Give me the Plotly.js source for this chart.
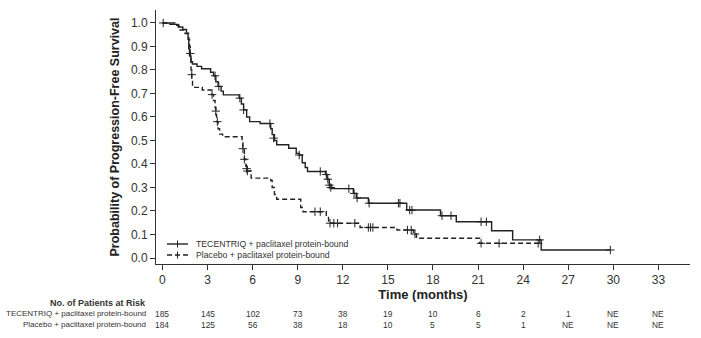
<!DOCTYPE html>
<html>
<head>
<meta charset="utf-8">
<script src="https://cdn.plot.ly/plotly-3.0.1.min.js"></script>
<style>
  html, body { margin: 0; padding: 0; background: #fff; }
  #chart { width: 701px; height: 338px; }
</style>
</head>
<body>
<div id="chart"></div>
<script>
// ---- Data ----
const tecentriqStepTime = [0, 0.5, 1.05, 1.35, 1.6, 1.7, 1.75, 1.8, 1.9, 2.0, 2.3, 2.6, 3.2, 3.4, 3.55, 3.7, 3.9, 4.05, 5.1, 5.25, 5.4, 5.6, 5.8, 6.5, 7.2, 7.3, 7.45, 7.6, 8.4, 8.9, 9.1, 9.3, 9.5, 9.65, 10.85, 10.95, 11.1, 11.25, 12.7, 12.9, 13.7, 16.25, 18.5, 19.55, 21.9, 23.3, 25.2, 29.8];
const tecentriqStepSurv = [1.0, 0.994, 0.983, 0.972, 0.956, 0.93, 0.89, 0.86, 0.835, 0.825, 0.815, 0.805, 0.79, 0.775, 0.75, 0.73, 0.71, 0.694, 0.68, 0.655, 0.63, 0.60, 0.58, 0.572, 0.55, 0.525, 0.50, 0.482, 0.467, 0.445, 0.438, 0.405, 0.385, 0.368, 0.355, 0.335, 0.31, 0.295, 0.275, 0.255, 0.233, 0.204, 0.18, 0.154, 0.116, 0.077, 0.034, 0.034];
const tecentriqCensorTime = [0.05, 3.5, 3.75, 5.15, 5.4, 7.15, 7.4, 9.1, 10.5, 10.9, 11.0, 11.1, 11.2, 12.4, 12.75, 12.95, 13.75, 15.7, 15.8, 16.45, 16.6, 18.6, 19.2, 21.2, 21.55, 25.1, 29.8];
const tecentriqCensorSurv = [1.0, 0.775, 0.73, 0.68, 0.63, 0.572, 0.51, 0.438, 0.368, 0.355, 0.335, 0.31, 0.30, 0.295, 0.275, 0.255, 0.233, 0.233, 0.233, 0.204, 0.204, 0.18, 0.18, 0.154, 0.154, 0.077, 0.034];

const placeboStepTime = [0, 0.95, 1.1, 1.5, 1.75, 1.8, 1.85, 1.9, 1.95, 2.0, 2.65, 3.3, 3.4, 3.5, 3.55, 3.6, 3.7, 3.8, 4.0, 5.3, 5.35, 5.45, 5.55, 5.65, 5.9, 7.2, 7.3, 7.45, 7.6, 9.2, 9.35, 10.9, 11.05, 13.15, 15.6, 16.7, 16.9, 21.1, 25.0];
const placeboStepSurv = [1.0, 0.99, 0.97, 0.955, 0.93, 0.90, 0.86, 0.80, 0.76, 0.726, 0.715, 0.695, 0.67, 0.64, 0.61, 0.58, 0.55, 0.527, 0.516, 0.49, 0.46, 0.42, 0.39, 0.37, 0.34, 0.33, 0.30, 0.27, 0.25, 0.215, 0.197, 0.176, 0.148, 0.13, 0.119, 0.102, 0.084, 0.0625, 0.0625];
const placeboCensorTime = [1.85, 1.95, 3.3, 3.55, 3.65, 5.35, 5.45, 5.6, 5.65, 10.15, 10.5, 11.15, 11.4, 11.65, 12.8, 13.7, 13.85, 14.0, 16.3, 16.55, 16.8, 21.2, 22.4, 25.0];
const placeboCensorSurv = [0.87, 0.78, 0.695, 0.625, 0.58, 0.465, 0.42, 0.38, 0.37, 0.197, 0.197, 0.148, 0.148, 0.148, 0.148, 0.13, 0.13, 0.13, 0.119, 0.119, 0.102, 0.0625, 0.0625, 0.0625];

const xTickVals = [0, 3, 6, 9, 12, 15, 18, 21, 24, 27, 30, 33];
const yTickVals = [0, 0.1, 0.2, 0.3, 0.4, 0.5, 0.6, 0.7, 0.8, 0.9, 1.0];
const seriesNames = ['TECENTRIQ + paclitaxel protein-bound', 'Placebo + paclitaxel protein-bound'];
const riskHeading = 'No. of Patients at Risk';
const riskTecentriq = ['185', '145', '102', '73', '38', '19', '10', '6', '2', '1', 'NE', 'NE'];
const riskPlacebo = ['184', '125', '56', '38', '18', '10', '5', '5', '1', 'NE', 'NE', 'NE'];

// ---- Styles ----
const INK = '#222';
const TXT = '#333';
const FONT = 'Liberation Sans, Arial, Helvetica, sans-serif';
const DASH = '5px,3px';

const traces = [
  { x: tecentriqStepTime, y: tecentriqStepSurv, mode: 'lines', line: { shape: 'hv', color: INK, width: 1.4 }, showlegend: false, hoverinfo: 'skip' },
  { x: tecentriqCensorTime, y: tecentriqCensorSurv, mode: 'markers', marker: { symbol: 'cross-thin', size: 6, line: { color: INK, width: 1 } }, showlegend: false },
  { x: placeboStepTime, y: placeboStepSurv, mode: 'lines', line: { shape: 'hv', color: INK, width: 1.4, dash: DASH }, showlegend: false, hoverinfo: 'skip' },
  { x: placeboCensorTime, y: placeboCensorSurv, mode: 'markers', marker: { symbol: 'cross-thin', size: 6, line: { color: INK, width: 1 } }, showlegend: false }
];

// Plot area in pixels: left 156, right 690, top 10, bottom 264
const PL = 156, PR = 690, PT = 10, PB = 264;
const px2paperX = px => (px - PL) / (PR - PL);
const px2paperY = py => (PB - py) / (PB - PT);

const annotations = [];
const shapes = [];

// Legend (manual)
const legendRows = [244, 255];
seriesNames.forEach((name, i) => {
  const yy = px2paperY(legendRows[i]);
  shapes.push({ type: 'line', xref: 'paper', yref: 'paper', x0: px2paperX(167), x1: px2paperX(188), y0: yy, y1: yy,
    line: { color: INK, width: 1.4, dash: i === 0 ? 'solid' : DASH } });
  shapes.push({ type: 'line', xref: 'paper', yref: 'paper', x0: px2paperX(177.5), x1: px2paperX(177.5), y0: px2paperY(legendRows[i] - 3.5), y1: px2paperY(legendRows[i] + 3.5),
    line: { color: INK, width: 1 } });
  annotations.push({ xref: 'paper', yref: 'paper', x: px2paperX(194), y: yy, xanchor: 'left', yanchor: 'middle',
    text: name, showarrow: false, font: { family: FONT, size: 8.7, color: TXT } });
});

// Risk table
const labelX = px2paperX(148);
annotations.push({ xref: 'paper', yref: 'paper', x: labelX, y: px2paperY(303), xanchor: 'right', yanchor: 'middle',
  text: '<b>' + riskHeading + '</b>', showarrow: false, font: { family: FONT, size: 9, color: TXT } });
[[riskTecentriq, 313.5], [riskPlacebo, 324.5]].forEach(([vals, py], r) => {
  annotations.push({ xref: 'paper', yref: 'paper', x: labelX, y: px2paperY(py), xanchor: 'right', yanchor: 'middle',
    text: seriesNames[r], showarrow: false, font: { family: FONT, size: 8, color: TXT } });
  vals.forEach((v, k) => {
    annotations.push({ xref: 'x', yref: 'paper', x: xTickVals[k], y: px2paperY(py), xanchor: 'center', yanchor: 'middle',
      text: v, showarrow: false, font: { family: FONT, size: 8.4, color: TXT } });
  });
});

const layout = {
  width: 701, height: 338,
  margin: { l: PL, r: 701 - PR, t: PT, b: 338 - PB, pad: 0 },
  paper_bgcolor: '#fff', plot_bgcolor: '#fff',
  font: { family: FONT, color: TXT },
  showlegend: false,
  xaxis: {
    range: [-0.43, 35.1], tickvals: xTickVals, ticks: 'outside', ticklen: 5, tickwidth: 1, tickcolor: TXT,
    showline: true, linecolor: TXT, linewidth: 1, showgrid: false, zeroline: false,
    tickfont: { family: FONT, size: 12, color: TXT },
    title: { text: '<b>Time (months)</b>', font: { family: FONT, size: 13, color: INK }, standoff: 1 },
    automargin: false
  },
  yaxis: {
    range: [-0.0255, 1.055], tickvals: yTickVals, tickformat: '.1f', ticks: 'outside', ticklen: 5, tickwidth: 1, tickcolor: TXT,
    showline: true, linecolor: TXT, linewidth: 1, showgrid: false, zeroline: false,
    tickfont: { family: FONT, size: 12, color: TXT },
    title: { text: '<b>Probability of Progression-Free Survival</b>', font: { family: FONT, size: 12.5, color: INK }, standoff: 8 },
    automargin: false
  },
  shapes: shapes,
  annotations: annotations
};

Plotly.newPlot('chart', traces, layout, { displayModeBar: false, staticPlot: true });
</script>
</body>
</html>
